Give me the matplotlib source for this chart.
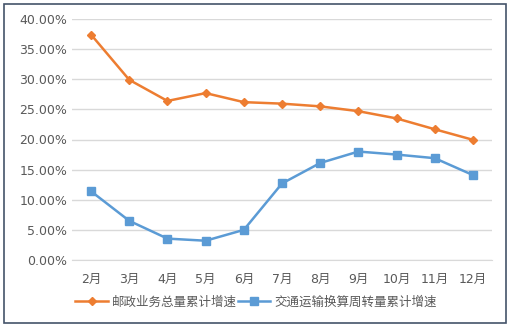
import matplotlib
matplotlib.use("Agg")
import matplotlib.pyplot as plt
from matplotlib.patches import Rectangle
from matplotlib.ticker import FuncFormatter, MultipleLocator

plt.rcParams['font.family'] = ['DejaVu Sans', 'Noto Sans CJK SC']

months = ["2月", "3月", "4月", "5月", "6月", "7月", "8月", "9月", "10月", "11月", "12月"]
postal_growth = [37.4, 29.9, 26.4, 27.7, 26.2, 25.95, 25.5, 24.7, 23.5, 21.7, 19.95]
transport_growth = [11.4, 6.5, 3.55, 3.2, 5.0, 12.7, 16.1, 18.0, 17.5, 16.9, 14.1]
series_names = ["邮政业务总量累计增速", "交通运输换算周转量累计增速"]

fig = plt.figure(figsize=(5.12, 3.27), dpi=100)
ax = fig.add_axes([72/512, 1-260/327, 420/512, 241/327])

x = range(len(months))
ax.plot(x, postal_growth, color="#ED7D31", lw=1.8, marker="D", ms=4.5, label=series_names[0])
ax.plot(x, transport_growth, color="#5B9BD5", lw=1.8, marker="s", ms=5.5, label=series_names[1])

ax.set_xlim(-0.5, len(months) - 0.5)
ax.set_ylim(0, 40)
ax.yaxis.set_major_locator(MultipleLocator(5))
ax.yaxis.set_major_formatter(FuncFormatter(lambda v, p: f"{v:.2f}%"))
ax.set_xticks(list(x))
ax.set_xticklabels(months, family=['DejaVu Sans', 'Noto Sans CJK SC'])
ax.tick_params(axis="both", length=0, labelsize=9, colors="#595959")
ax.tick_params(axis="x", pad=9)
ax.grid(axis="y", color="#D9D9D9", lw=1)
ax.set_axisbelow(True)
for s in ["top", "right", "left"]:
    ax.spines[s].set_visible(False)
ax.spines["bottom"].set_color("#D9D9D9")

leg = fig.legend(loc="center", bbox_to_anchor=(256/512, 1-302/327), ncol=2, frameon=False,
                 prop={'family': ['Noto Sans CJK SC'], 'size': 9}, handlelength=2.6,
                 columnspacing=0.1, handletextpad=0.3)
for t in leg.get_texts():
    t.set_color("#595959")

fig.patches.append(Rectangle((4/512, 4/327), 502/512, 319/327, transform=fig.transFigure,
                             fill=False, edgecolor="#44546A", lw=1.2))

fig.savefig("out.png", dpi=100)
